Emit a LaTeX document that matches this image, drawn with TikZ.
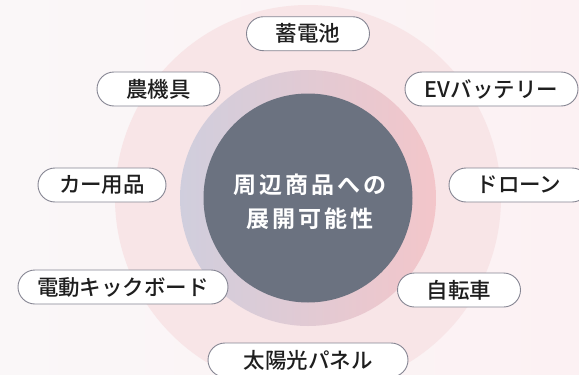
\documentclass[tikz,border=0pt]{standalone}
\usepackage{fontspec}
\newfontfamily\cjk{Noto Sans CJK JP Medium}
\newfontfamily\cjkb[LetterSpace=13]{Noto Sans CJK JP Bold}
\definecolor{bgl}{HTML}{FAF7F8}
\definecolor{bgr}{HTML}{FCF1F3}
\definecolor{outerc}{HTML}{F8E5E7}
\definecolor{ringl}{HTML}{D0CEDD}
\definecolor{ringr}{HTML}{F3C6CA}
\definecolor{corec}{HTML}{6B7280}
\definecolor{pillline}{HTML}{858592}
\definecolor{txt}{HTML}{1E1E1E}
\tikzset{
  pill/.style={draw=pillline, line width=0.9pt, fill=white, rounded corners=17pt,
    minimum height=34pt, inner sep=0pt, text=txt,
    font=\cjk\fontsize{21.5}{24}\selectfont},
}
\begin{document}
\begin{tikzpicture}[x=1pt,y=-1pt]
\useasboundingbox (0,0) rectangle (579,375);
\shade[left color=bgl, right color=bgr] (0,0) rectangle (579,375);
\begin{scope}
\clip (0,0) rectangle (579,375);
\fill[outerc] (308,198) circle[radius=193pt];
\shade[left color=ringl, right color=ringr] (308,198) circle[radius=128pt];
\end{scope}
\node[circle, fill=corec, minimum size=209pt, inner sep=0pt] (core) at (308,198) {};
\node[text=white, align=center, font=\cjkb\fontsize{23}{34}\selectfont] (ctext) at (310,202) {周辺商品への\\展開可能性};
\node[pill, minimum width=123pt] (battery) at (308,33.7) {蓄電池};
\node[pill, minimum width=123pt] (farm) at (158.5,89) {農機具};
\node[pill, minimum width=173pt] (ev) at (491.5,89) {EVバッテリー};
\node[pill, minimum width=128pt] (car) at (102,185) {カー用品};
\node[pill, minimum width=140pt] (drone) at (519,185) {ドローン};
\node[pill, minimum width=210pt] (kick) at (123,287) {電動キックボード};
\node[pill, minimum width=123pt] (bike) at (459,290) {自転車};
\node[pill, minimum width=200pt] (solar) at (308,360) {太陽光パネル};
\end{tikzpicture}
\end{document}
